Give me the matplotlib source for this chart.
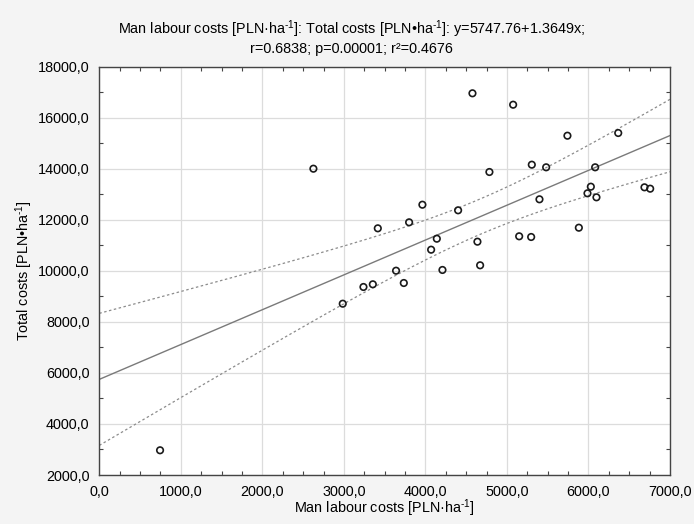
import numpy as np
import matplotlib
matplotlib.use('Agg')
import matplotlib.pyplot as plt
from matplotlib.ticker import MultipleLocator, FuncFormatter

plt.rcParams['font.family'] = ['Liberation Sans', 'DejaVu Sans']
plt.rcParams['mathtext.fontset'] = 'custom'
plt.rcParams['mathtext.rm'] = 'Liberation Sans'
plt.rcParams['mathtext.it'] = 'Liberation Sans:italic'

# labour costs vs total costs, PLN per ha
labour = [745, 2626, 2986, 3240, 3355, 3416, 3640, 3735, 3800, 3963,
          4070, 4140, 4209, 4401, 4577, 4638, 4671, 4785, 5076, 5150,
          5297, 5305, 5399, 5481, 5742, 5882, 5988, 6029, 6082, 6098,
          6365, 6687, 6757]
total = [2969, 14003, 8713, 9368, 9473, 11667, 10006, 9524, 11902, 12592,
         10829, 11260, 10035, 12373, 16958, 11143, 10218, 13874, 16511, 11354,
         11327, 14160, 12804, 14058, 15296, 11691, 13039, 13298, 14058, 12882,
         15402, 13274, 13220]

# fitted line
a = 5747.76
b = 1.3649
t_crit = 2.0395  # t(0.975, df=31)

x = np.array(labour, dtype=float)
y = np.array(total, dtype=float)
n = len(x)
resid = y - (a + b * x)
s = np.sqrt(np.sum(resid ** 2) / (n - 2))
sxx = np.sum((x - x.mean()) ** 2)

xs = np.linspace(0, 7000, 200)
ys = a + b * xs
half = t_crit * s * np.sqrt(1.0 / n + (xs - x.mean()) ** 2 / sxx)

W, H = 694, 524
fig = plt.figure(figsize=(W / 100, H / 100), dpi=100, facecolor='#f4f4f4')
ax = fig.add_axes([0.1431, 0.0935, 0.8223, 0.7792])
ax.set_facecolor('white')

ax.plot(xs, ys, color='#7a7a7a', lw=1.0, zorder=2)
ax.plot(xs, ys + half, color='#8c8c8c', lw=0.9, ls=(0, (2, 2)), zorder=2)
ax.plot(xs, ys - half, color='#8c8c8c', lw=0.9, ls=(0, (2, 2)), zorder=2)
ax.scatter(x, y, s=22, facecolors='none', edgecolors='#1a1a1a', linewidths=1.2, zorder=3)

ax.set_xlim(0, 7000)
ax.set_ylim(2000, 18000)
ax.xaxis.set_major_locator(MultipleLocator(1000))
ax.xaxis.set_minor_locator(MultipleLocator(250))
ax.yaxis.set_major_locator(MultipleLocator(2000))
ax.yaxis.set_minor_locator(MultipleLocator(1000))
fmt = FuncFormatter(lambda v, p: ('%.1f' % v).replace('.', ','))
ax.xaxis.set_major_formatter(fmt)
ax.yaxis.set_major_formatter(fmt)

ax.grid(True, which='major', color='#dcdcdc', lw=0.9, zorder=0)
ax.set_axisbelow(True)
ax.tick_params(which='both', direction='in', top=True, right=True,
               length=3, width=0.8, color='#444444', labelsize=10.4)
ax.tick_params(which='major', length=0, pad=7)
for sp in ax.spines.values():
    sp.set_color('#444444')
    sp.set_linewidth(1.0)

# labels and two-line header placed in pixel positions
sup = r'$^{\text{-}1}$'
fs = 10.4
fig.text(384.6 / W, 1 - 508.5 / H, 'Man labour costs [PLN·ha' + sup + ']',
         fontsize=fs, ha='center', va='center')
fig.text(24 / W, 1 - 271 / H, 'Total costs [PLN•ha' + sup + ']',
         fontsize=fs, ha='center', va='center', rotation=90)
fig.text(351.5 / W, 1 - 34.5 / H,
         'Man labour costs [PLN·ha' + sup + ']: Total costs [PLN•ha' + sup + ']: y=5747.76+1.3649x;',
         fontsize=fs, ha='center', va='baseline')
fig.text(351.5 / W, 1 - 53.5 / H, 'r=0.6838; p=0.00001; r²=0.4676',
         fontsize=fs, ha='center', va='baseline')

fig.savefig('out.png', dpi=100, facecolor=fig.get_facecolor())
